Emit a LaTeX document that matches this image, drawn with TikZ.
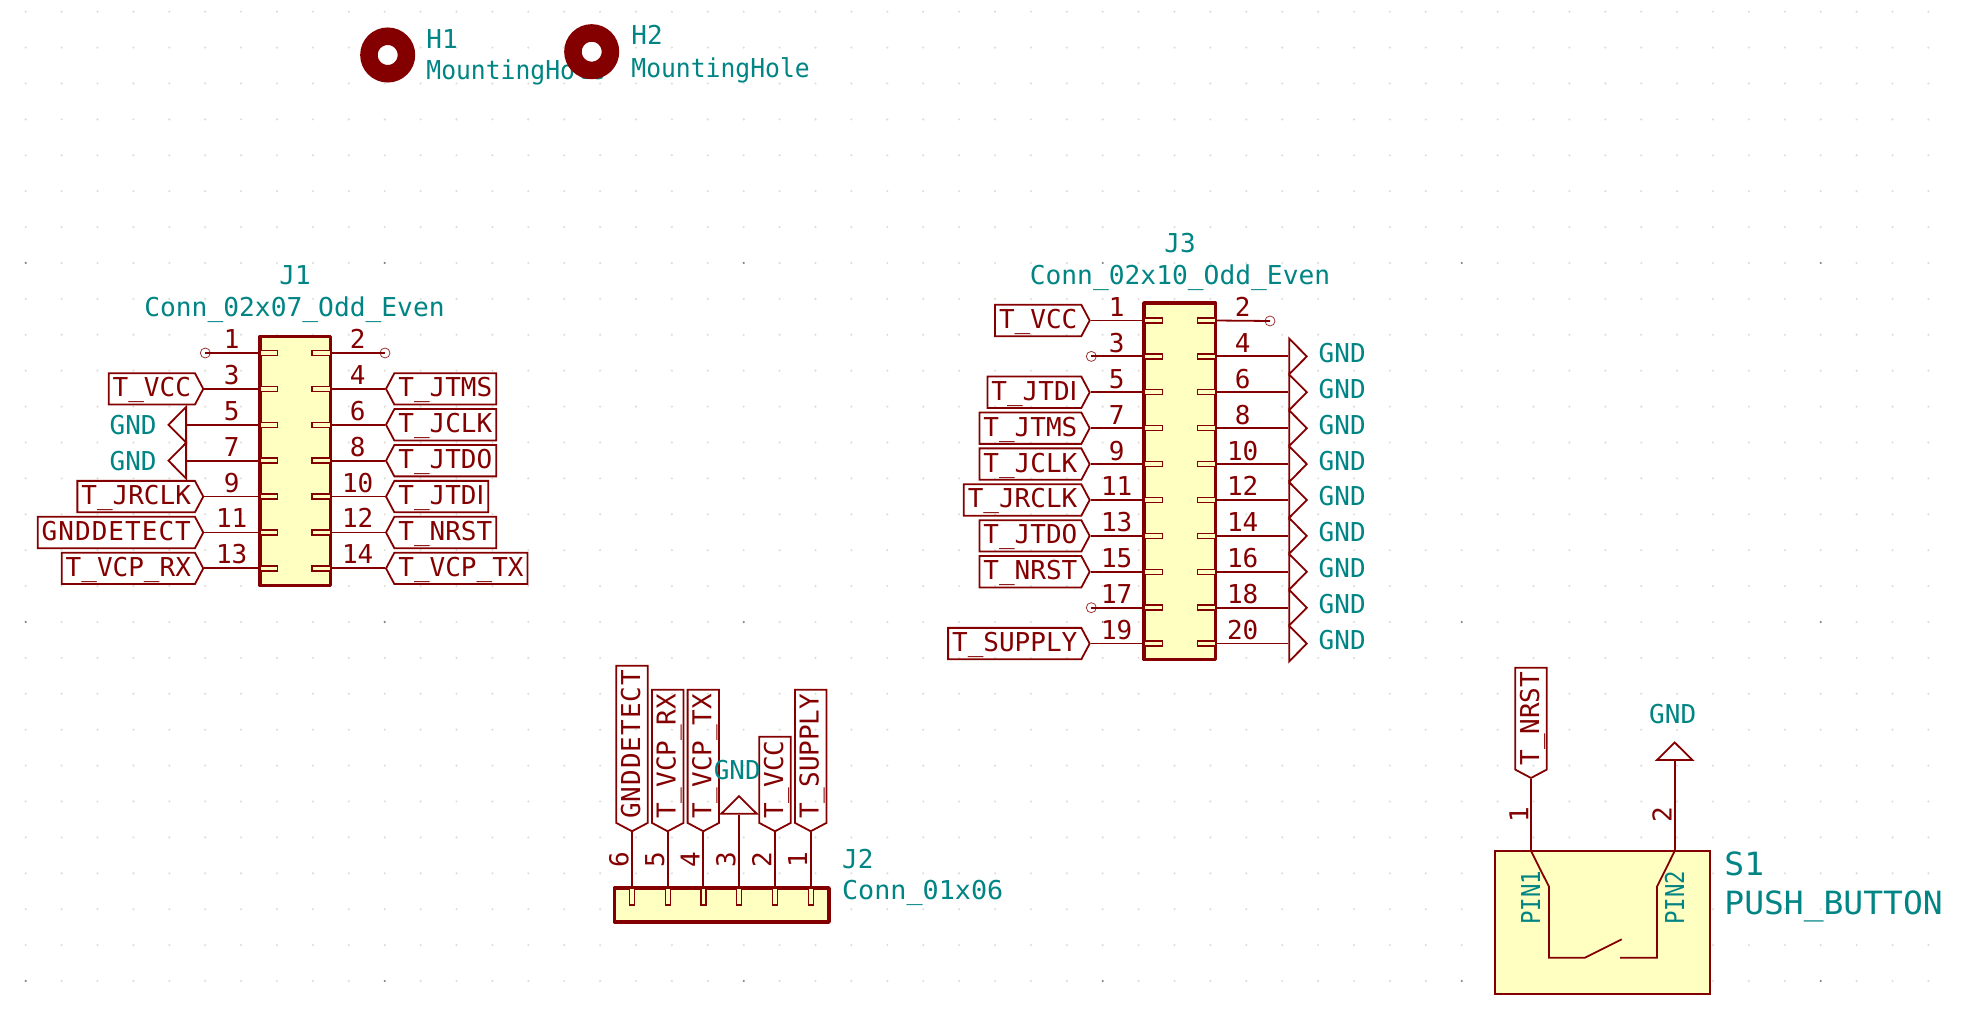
\documentclass[tikz,border=0pt]{standalone}
\usepackage{fontspec}
\setmainfont{DejaVu Sans Mono}
\newfontfamily\narrowfont{DejaVu Sans}
\usepackage{xcolor}
\usetikzlibrary{positioning,shapes.geometric,shapes.symbols}
\definecolor{schred}{RGB}{132,0,0}
\definecolor{schteal}{RGB}{0,132,132}
\definecolor{schfill}{RGB}{255,255,194}
\definecolor{schgrid}{RGB}{222,222,216}
\definecolor{schdot}{RGB}{130,130,130}
\newcommand{\widetxt}[1]{{\addfontfeature{LetterSpace=4}#1}}
\tikzset{
  wire/.style={schred,line width=.9pt},
  body/.style={draw=schred,fill=schfill,line width=1.8pt,line join=round},
  stub/.style={draw=schred,fill=schfill,line width=.7pt},
  siglabel/.style={draw=schred,text=schred,line width=.9pt,shape=signal,signal pointer angle=124,
    signal from=nowhere,inner xsep=2pt,inner ysep=0pt,minimum height=15.7pt,text height=9.5pt,text depth=1.5pt,
    font=\fontsize{13}{15}\selectfont},
  gndsym/.style={draw=schred,line width=.9pt,isosceles triangle,isosceles triangle stretches,
    minimum width=17.8pt,minimum height=8.8pt,inner sep=0pt},
  nccircle/.style={circle,draw=schred!80,line width=.4pt,minimum size=5pt,inner sep=0pt},
  reftext/.style={text=schteal,inner sep=0pt,font=\fontsize{13}{15}\selectfont},
  pinnum/.style={text=schred,inner sep=0pt,anchor=base,font=\fontsize{13}{15}\selectfont},
  holering/.style={circle,draw=schred,fill=white,line width=8.75pt,minimum size=18.75pt,inner sep=0pt}
}
\begin{document}
\begin{tikzpicture}[x=.5pt,y=-.5pt]
\useasboundingbox (0,0) rectangle (1967,1020);
% sheet grid
\foreach \i in {0,...,53} \foreach \j in {0,...,27} \fill[schgrid] ({25.7+35.9*\i},{11.7+35.9*\j}) circle (.6pt);
\foreach \i in {0,...,5} \foreach \j in {7,17,27} \fill[schdot] ({25.7+359*\i},{11.7+35.9*\j}) circle (.6pt);

% mounting holes
\node[holering] (HoleA) at (387.7,55) {};
\node[reftext,anchor=base west] (HoleAref) at (426,48.3) {H1};
\node[reftext,anchor=base west,xscale=.95] (HoleAval) at (426,80) {MountingHole};
\node[holering] (HoleB) at (591.7,51.7) {};
\node[reftext,anchor=base west] (HoleBref) at (631,45) {H2};
\node[reftext,anchor=base west,xscale=.95] (HoleBval) at (631,77.3) {MountingHole};

% J1
\foreach \k/\n/\l in {1/3/T\_VCC,4/9/T\_JRCLK,5/11/\widetxt{GNDDETECT},6/13/T\_VCP\_RX}{
  \coordinate (JoneL\n) at (262,{353+35.9*\k});
  \node[siglabel,signal to=east,anchor=east] (JoneLabel\n) at (204.3,{353+35.9*\k}) {\l};
  \draw[wire] (JoneLabel\n.east) -- (JoneL\n);
}
\foreach \k/\n in {2/5,3/7}{
  \coordinate (JoneL\n) at (262,{353+35.9*\k});
  \node[gndsym,rotate=180,anchor=lower side] (JoneGnd\n) at (187,{353+35.9*\k}) {};
  \node[reftext,anchor=base east] (JoneGndtxt\n) at (157,{363+35.9*\k}) {GND};
  \draw[wire] (JoneGnd\n.lower side) -- (JoneL\n);
}
\foreach \k/\n/\l in {1/4/T\_JTMS,2/6/T\_JCLK,3/8/T\_JTDO,4/10/{T\_JTD{\narrowfont I}},5/12/T\_NRST,6/14/T\_VCP\_TX}{
  \coordinate (JoneR\n) at (328,{353+35.9*\k});
  \node[siglabel,signal to=west,anchor=west] (JoneLabel\n) at (385,{353+35.9*\k}) {\l};
  \draw[wire] (JoneLabel\n.west) -- (JoneR\n);
}
\coordinate (JoneL1) at (262,353);
\coordinate (JoneR2) at (328,353);
\node[nccircle] (JoneNcA) at (205.3,353) {};
\node[nccircle] (JoneNcB) at (385,353) {};
\draw[wire] (JoneNcA.center) -- (JoneL1);
\draw[wire] (JoneNcB.center) -- (JoneR2);
\draw[body] (260,336.5) rectangle (330.5,585.5);
\foreach \k [evaluate=\k as \a using int(2*\k+1),evaluate=\k as \b using int(2*\k+2)] in {0,...,6}{
  \draw[stub] (260,{350.5+35.9*\k}) rectangle (277.7,{355.5+35.9*\k});
  \draw[stub] (312,{350.5+35.9*\k}) rectangle (330.5,{355.5+35.9*\k});
  \node[pinnum] (JoneNum\a) at (231.7,{348.5+35.9*\k}) {\a};
  \node[pinnum] (JoneNum\b) at (357.7,{348.5+35.9*\k}) {\b};
}
\node[reftext,anchor=base] (JoneRef) at (295,284.3) {J1};
\node[reftext,anchor=base,xscale=1.01] (JoneVal) at (294.5,316.7) {Conn\_02x07\_Odd\_Even};

% J3
\foreach \k/\n/\l in {0/1/T\_VCC,2/5/{T\_JTD{\narrowfont I}},3/7/T\_JTMS,4/9/T\_JCLK,5/11/T\_JRCLK,6/13/T\_JTDO,7/15/T\_NRST,9/19/T\_SUPPLY}{
  \coordinate (JthreeL\n) at (1145,{320.5+35.9*\k});
  \node[siglabel,signal to=east,anchor=east] (JthreeLabel\n) at (1090.7,{320.5+35.9*\k}) {\l};
  \draw[wire] (JthreeLabel\n.east) -- (JthreeL\n);
}
\foreach \k/\n in {1/3,8/17}{
  \coordinate (JthreeL\n) at (1145,{320.5+35.9*\k});
  \node[nccircle] (JthreeNc\n) at (1091.3,{320.5+35.9*\k}) {};
  \draw[wire] (JthreeNc\n.center) -- (JthreeL\n);
}
\coordinate (JthreeR2) at (1214,320.5);
\node[nccircle] (JthreeNc2) at (1270,321) {};
\draw[wire] (JthreeNc2.center) -- (JthreeR2);
\foreach \k [evaluate=\k as \b using int(2*\k+2)] in {1,...,9}{
  \coordinate (JthreeR\b) at (1214,{320.5+35.9*\k});
  \node[gndsym,anchor=lower side] (JthreeGnd\b) at (1288.3,{320.5+35.9*\k}) {};
  \node[reftext,anchor=base west] (JthreeGndtxt\b) at (1318.3,{326.5+35.9*\k}) {GND};
  \draw[wire] (JthreeGnd\b.lower side) -- (JthreeR\b);
}
\draw[body] (1144,303) rectangle (1215.5,659.5);
\foreach \k [evaluate=\k as \a using int(2*\k+1),evaluate=\k as \b using int(2*\k+2)] in {0,...,9}{
  \draw[stub] (1144,{318+35.9*\k}) rectangle (1162.7,{323+35.9*\k});
  \draw[stub] (1197.3,{318+35.9*\k}) rectangle (1215.5,{323+35.9*\k});
  \node[pinnum] (JthreeNum\a) at (1116.7,{316.5+35.9*\k}) {\a};
  \node[pinnum] (JthreeNum\b) at (1242.7,{316.5+35.9*\k}) {\b};
}
\node[reftext,anchor=base] (JthreeRef) at (1180,252.3) {J3};
\node[reftext,anchor=base,xscale=1.01] (JthreeVal) at (1180,284.3) {Conn\_02x10\_Odd\_Even};

% J2
\foreach \x/\n/\l in {632/6/\widetxt{GNDDETECT},667.7/5/T\_VCP\_RX,703.3/4/T\_VCP\_TX,775/2/T\_VCC,810.7/1/T\_SUPPLY}{
  \coordinate (JtwoP\n) at (\x,890);
  \node[siglabel,rotate=90,signal to=west,anchor=west] (JtwoLabel\n) at (\x,832.3) {\l};
  \draw[wire] (JtwoLabel\n.west) -- (JtwoP\n);
}
\coordinate (JtwoP3) at (739,890);
\node[gndsym,rotate=90,anchor=lower side] (JtwoGnd) at (739,814.7) {};
\node[reftext,anchor=base] (JtwoGndtxt) at (737.3,779.3) {GND};
\draw[wire] (JtwoGnd.lower side) -- (JtwoP3);
\draw[body] (614.5,888) rectangle (829,922);
\foreach \x/\n in {632/6,667.7/5,703.3/4,739/3,775/2,810.7/1}{
  \draw[stub] (\x-2.5,888) rectangle (\x+2.5,905);
  \node[pinnum,rotate=90] (JtwoNum\n) at (\x-3.7,859.3) {\n};
}
\node[reftext,anchor=base west] (JtwoRef) at (841.7,868.3) {J2};
\node[reftext,anchor=base west,xscale=1.03] (JtwoVal) at (841.7,900) {Conn\_01x06};

% S1
\draw[wire,fill=schfill] (1495,851) rectangle (1710,994);
\node[siglabel,rotate=90,signal to=west,anchor=west] (SwLabel) at (1531,779) {T\_NRST};
\node[gndsym,rotate=90,anchor=lower side] (SwGnd) at (1674.7,761) {};
\node[reftext,anchor=base] (SwGndtxt) at (1672.7,724) {GND};
\coordinate (SwP1) at (1531,851);
\coordinate (SwP2) at (1674.7,851);
\draw[wire] (SwLabel.west) -- (SwP1);
\draw[wire] (SwGnd.lower side) -- (SwP2);
\draw[wire] (SwP1) -- (1549,886.7) -- (1549,957.7) -- (1585,957.7) -- (1621.7,939.3);
\draw[wire] (1620,957.7) -- (1657,957.7) -- (1657,886.7) -- (SwP2);
\node[pinnum,rotate=90] (SwNum1) at (1528.3,815) {1};
\node[pinnum,rotate=90] (SwNum2) at (1671.7,815) {2};
\node[reftext,rotate=90,anchor=base west,xscale=.86] (SwPinA) at (1540,925) {PIN1};
\node[reftext,rotate=90,anchor=base west,xscale=.86] (SwPinB) at (1684,925) {PIN2};
\node[reftext,anchor=base west,xscale=1.03,font=\fontsize{16}{18}\selectfont] (SwRef) at (1724,876) {S1};
\node[reftext,anchor=base west,xscale=1.03,font=\fontsize{16}{18}\selectfont] (SwVal) at (1724,914.3) {PUSH\_BUTTON};
\end{tikzpicture}
\end{document}
